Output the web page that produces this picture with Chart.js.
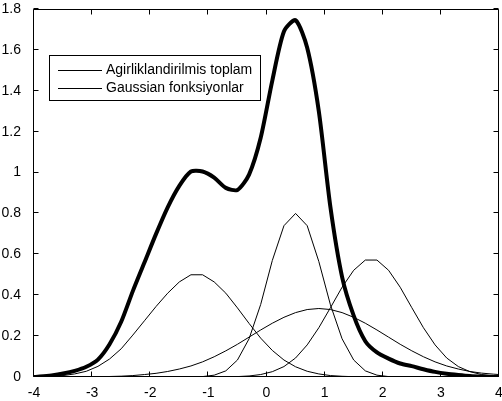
<!DOCTYPE html>
<html>
<head>
<meta charset="utf-8">
<script src="https://cdn.jsdelivr.net/npm/chart.js@4/dist/chart.umd.min.js"></script>
<style>
  body { margin: 0; background: #fff; }
</style>
</head>
<body>
<canvas id="myChart" width="502" height="401"></canvas>
<script>
// x samples
const xs = [-4, -3.9, -3.7, -3.5, -3.3, -3.1, -2.9, -2.7, -2.5, -2.3, -2.1, -1.9, -1.7, -1.5, -1.3, -1.1,
    -0.9, -0.7, -0.5, -0.3, -0.1, 0.1, 0.3, 0.5, 0.7, 0.9, 1.1, 1.3, 1.5, 1.7, 1.9, 2.1,
    2.3, 2.5, 2.7, 2.9, 3.1, 3.3, 3.5, 3.7, 3.9, 4];

// thick line - weighted sum
const weightedSum = [0, 0.002, 0.008, 0.017, 0.03, 0.05, 0.085, 0.16, 0.27, 0.42, 0.56, 0.70, 0.83, 0.935, 1.005, 1.005,
    0.975, 0.925, 0.915, 0.99, 1.17, 1.45, 1.69, 1.745, 1.61, 1.30, 0.83, 0.49, 0.30, 0.175, 0.12, 0.09,
    0.066, 0.053, 0.038, 0.025, 0.016, 0.01, 0.005, 0.002, 0, 0];

// thin lines - gaussians
const gauss1 = [0.001, 0.0015, 0.0035, 0.007, 0.015, 0.028, 0.052, 0.088, 0.138, 0.205, 0.275, 0.345, 0.41, 0.465, 0.5, 0.5,
    0.465, 0.41, 0.338, 0.262, 0.19, 0.13, 0.083, 0.05, 0.028, 0.015, 0.007, 0.0035, 0.0015, 0.001, 0, 0,
    0, 0, 0, 0, 0, 0, 0, 0, 0, 0];
const gauss2 = [0, 0, 0, 0, 0, 0, 0, 0, 0, 0, 0, 0, 0, 0, 0, 0.002,
    0.009, 0.03, 0.083, 0.187, 0.355, 0.57, 0.74, 0.80, 0.74, 0.565, 0.353, 0.187, 0.083, 0.03, 0.009, 0.002,
    0, 0, 0, 0, 0, 0, 0, 0, 0, 0];
const gauss3 = [0, 0, 0, 0, 0, 0, 0, 0, 0, 0, 0, 0, 0, 0, 0, 0,
    0.0002, 0.0007, 0.002, 0.005, 0.012, 0.026, 0.051, 0.093, 0.157, 0.241, 0.339, 0.439, 0.522, 0.572, 0.572, 0.522,
    0.439, 0.339, 0.241, 0.157, 0.093, 0.051, 0.026, 0.012, 0.005, 0.003];
const gauss4 = [0, 0, 0.0001, 0.0002, 0.0004, 0.0008, 0.0014, 0.0025, 0.004, 0.007, 0.012, 0.018, 0.027, 0.039, 0.054, 0.074,
    0.099, 0.128, 0.16, 0.195, 0.23, 0.263, 0.292, 0.315, 0.33, 0.335, 0.33, 0.315, 0.292, 0.263, 0.23, 0.195,
    0.16, 0.128, 0.099, 0.074, 0.054, 0.039, 0.027, 0.019, 0.014, 0.012];

const legendLabels = ['Agirliklandirilmis toplam', 'Gaussian fonksiyonlar'];

const FONT = "'Liberation Sans', Arial, sans-serif";

function toPoints(arr) {
    return xs.map((x, i) => ({ x: x, y: arr[i] }));
}

function thin(arr) {
    return {
        data: toPoints(arr),
        borderColor: '#000',
        borderWidth: 1,
        pointRadius: 0,
        tension: 0,
        fill: false
    };
}

// matlab style box with inward ticks
const boxPlugin = {
    id: 'box',
    afterDatasetsDraw(chart) {
        const ctx = chart.ctx;
        const a = chart.chartArea;
        const xScale = chart.scales.x;
        const yScale = chart.scales.y;
        const L = Math.round(a.left) - 0.5, R = Math.round(a.right) - 0.5;
        const T = Math.round(a.top) + 0.5, B = Math.round(a.bottom) - 0.5;
        ctx.save();
        ctx.strokeStyle = '#000';
        ctx.lineWidth = 1;
        ctx.beginPath();
        ctx.rect(L, T, R - L, B - T);
        xScale.ticks.forEach(t => {
            const px = Math.round(xScale.getPixelForValue(t.value)) - 0.5;
            ctx.moveTo(px, B); ctx.lineTo(px, B - 5);
            ctx.moveTo(px, T); ctx.lineTo(px, T + 5);
        });
        yScale.ticks.forEach(t => {
            const py = Math.round(yScale.getPixelForValue(t.value)) - 0.5;
            ctx.moveTo(L, py); ctx.lineTo(L + 5, py);
            ctx.moveTo(R, py); ctx.lineTo(R - 5, py);
        });
        ctx.stroke();

        // legend box
        const lx = 49.5, ly = 55.5, lw = 211, lh = 45;
        ctx.fillStyle = '#fff';
        ctx.fillRect(lx, ly, lw, lh);
        ctx.strokeRect(lx, ly, lw, lh);
        ctx.font = '14px ' + FONT;
        ctx.fillStyle = '#000';
        ctx.textBaseline = 'middle';
        ctx.textAlign = 'left';
        const rows = [70, 88];
        legendLabels.forEach((txt, i) => {
            ctx.beginPath();
            ctx.moveTo(58, rows[i] + 0.5);
            ctx.lineTo(102, rows[i] + 0.5);
            ctx.stroke();
            ctx.fillText(txt, 106, rows[i]);
        });
        ctx.restore();
    }
};

const config = {
    type: 'line',
    data: {
        datasets: [
            {
                data: toPoints(weightedSum),
                borderColor: '#000',
                borderWidth: 4,
                borderJoinStyle: 'round',
                borderCapStyle: 'round',
                pointRadius: 0,
                tension: 0.25,
                fill: false
            },
            thin(gauss1),
            thin(gauss2),
            thin(gauss3),
            thin(gauss4)
        ]
    },
    options: {
        responsive: false,
        animation: false,
        devicePixelRatio: 1,
        layout: { padding: { top: 9, right: 3, left: 0, bottom: 0 } },
        plugins: {
            legend: { display: false },
            tooltip: { enabled: false }
        },
        scales: {
            x: {
                type: 'linear',
                min: -4,
                max: 4,
                grid: { display: false },
                border: { display: false },
                ticks: {
                    stepSize: 1,
                    color: '#000',
                    padding: 0,
                    maxRotation: 0,
                    font: { family: FONT, size: 14 },
                    callback: v => String(v)
                },
                afterFit(scale) {
                    scale.height = 24;
                    scale.paddingLeft = 0;
                    scale.paddingRight = 0;
                }
            },
            y: {
                min: 0,
                max: 1.8,
                grid: { display: false },
                border: { display: false },
                ticks: {
                    stepSize: 0.2,
                    color: '#000',
                    padding: 5,
                    font: { family: FONT, size: 14 },
                    callback: v => String(Number(v.toFixed(1)))
                },
                afterFit(scale) {
                    scale.width = 34;
                    scale.paddingTop = 0;
                    scale.paddingBottom = 0;
                }
            }
        }
    },
    plugins: [boxPlugin]
};

const myChart = new Chart(document.getElementById('myChart'), config);
</script>
</body>
</html>
